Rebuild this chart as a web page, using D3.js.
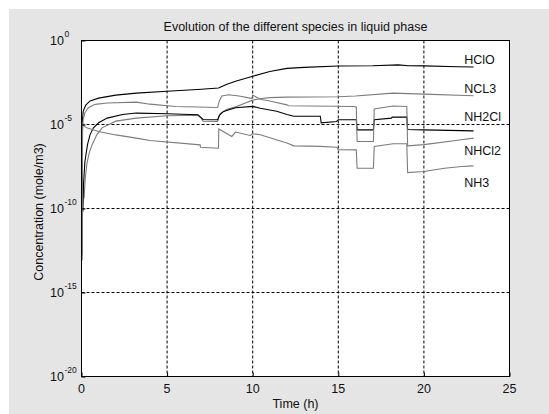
<!DOCTYPE html>
<html>
<head>
<meta charset="utf-8">
<script src="https://cdn.jsdelivr.net/npm/d3@7"></script>
<style>
	body { margin: 0; background: #fff; }
	text { font-family: "Liberation Sans", Arial, sans-serif; fill: #111; }
</style>
</head>
<body>
<div id="chart"></div>
<script>
// values; concentrations kept as log10(mole/m3)
const xTicks = [0, 5, 10, 15, 20, 25];
const yTickExp = [-20, -15, -10, -5, 0];

const hcloT   = [0.03, 0.04, 0.06, 0.1, 0.25, 0.5, 1, 2, 3.2, 5, 7, 8, 8.5, 9, 10, 11, 12, 13, 15, 17, 18.5, 19.1, 20, 22, 22.9];
const hcloLog = [-12.8, -5.0, -4.7, -4.2, -3.85, -3.6, -3.43, -3.25, -3.13, -3.02, -2.9, -2.83, -2.6, -2.43, -2.13, -1.85, -1.66, -1.6, -1.52, -1.5, -1.45, -1.5, -1.51, -1.56, -1.58];

const ncl3T   = [0.15, 0.22, 0.32, 0.45, 0.62, 0.9, 1.2, 2, 3.2, 5, 6.8, 7.0, 7.1, 7.95, 8.1, 8.5, 9, 9.5, 10, 10.5, 11, 12, 15, 16, 18.2, 20, 22.9];
const ncl3Log = [-9.4, -8.2, -7.3, -6.7, -6.2, -5.6, -5.2, -4.8, -4.62, -4.48, -4.45, -4.62, -4.8, -4.82, -4.35, -4.1, -3.95, -3.75, -3.55, -3.45, -3.4, -3.37, -3.35, -3.3, -3.13, -3.19, -3.29];

const nh2clT   = [0.08, 0.12, 0.2, 0.35, 0.5, 0.7, 1.0, 1.5, 2.4, 3.2, 5, 6.8, 7.0, 7.1, 7.95, 8.05, 8.3, 9, 10, 10.44, 11.4, 12.0, 12.4, 13.95, 14.0, 14.9, 15.0, 16.05, 16.1, 17.05, 17.1, 18.1, 18.15, 19.0, 19.05, 20, 22.9];
const nh2clLog = [-10.2, -8.5, -7.2, -6.2, -5.6, -5.2, -4.9, -4.62, -4.4, -4.32, -4.36, -4.42, -4.6, -4.7, -4.72, -4.45, -4.22, -4.0, -3.92, -4.03, -4.21, -4.4, -4.51, -4.51, -4.9, -4.82, -4.72, -4.72, -5.32, -5.32, -4.72, -4.62, -4.56, -4.56, -5.3, -5.32, -5.38];

const nhcl2T   = [0.04, 0.05, 0.06, 0.1, 0.2, 0.4, 0.8, 1.5, 3.2, 4, 5.5, 7.95, 8.05, 8.2, 8.6, 9.2, 9.85, 9.95, 10.0, 10.44, 11, 12, 12.1, 15.9, 16.05, 16.1, 17.05, 17.1, 18.2, 19.0, 19.05, 20, 22.2, 22.9];
const nhcl2Log = [-13.1, -8.0, -5.5, -4.7, -4.3, -4.0, -3.8, -3.72, -3.67, -3.79, -3.93, -3.99, -3.6, -3.3, -3.23, -3.3, -3.43, -3.45, -3.25, -3.5, -3.6, -3.83, -3.88, -3.93, -3.95, -6.01, -6.01, -4.08, -3.9, -3.93, -6.27, -6.2, -5.91, -5.81];

const nh3T   = [0.03, 0.3, 1, 2, 3.2, 4, 6.93, 6.95, 8.0, 8.02, 8.78, 9.0, 9.85, 10.0, 10.44, 12, 12.4, 13.95, 14.9, 15.0, 16.05, 16.1, 17.05, 17.1, 18.2, 19.0, 19.05, 20, 21.2, 22.2, 22.9];
const nh3Log = [-5.0, -5.2, -5.42, -5.62, -5.81, -5.95, -6.21, -6.35, -6.41, -5.27, -5.71, -5.45, -5.65, -5.55, -5.61, -6.1, -6.27, -6.3, -6.35, -6.5, -6.51, -7.6, -7.6, -6.31, -6.15, -6.15, -7.86, -7.8, -7.6, -7.5, -7.46];

const speciesNames = ["HClO", "NCL3", "NH2Cl", "NHCl2", "NH3"];
const labelT = 22.35;
const labelLog = [-1.12, -2.83, -4.54, -6.54, -8.46];

const series = [
	{ name: "HClO",  t: hcloT,  v: hcloLog,  color: "#000" },
	{ name: "NCL3",  t: ncl3T,  v: ncl3Log,  color: "#7c7c7c" },
	{ name: "NH2Cl", t: nh2clT, v: nh2clLog, color: "#000" },
	{ name: "NHCl2", t: nhcl2T, v: nhcl2Log, color: "#7c7c7c" },
	{ name: "NH3",   t: nh3T,   v: nh3Log,   color: "#7c7c7c" }
];

let width = 549;
let height = 414;
let margin = { top: 40.5, right: 39.5, bottom: 37.5, left: 81.5 };
let fontSize = "12.5px";

let svg = d3.select("#chart")
	.append("svg")
	.attr("width", width)
	.attr("height", height);

// figure background
svg.append("rect")
	.attr("x", 9).attr("y", 9)
	.attr("width", width - 9).attr("height", height - 9)
	.style("fill", "#e5e5e5");

let xScale = d3.scaleLinear()
	.domain([0, 25])
	.range([margin.left, width - margin.right]);

let yScale = d3.scaleLog()
	.domain([1e-20, 1])
	.range([height - margin.bottom, margin.top]);

// plot area
svg.append("rect")
	.attr("x", xScale(0))
	.attr("y", yScale(1))
	.attr("width", xScale(25) - xScale(0))
	.attr("height", yScale(1e-20) - yScale(1))
	.style("fill", "#fff");

// dashed grid
svg.append("g")
	.selectAll("line")
	.data(xTicks.slice(1, -1))
	.enter()
	.append("line")
	.attr("x1", d => xScale(d)).attr("x2", d => xScale(d))
	.attr("y1", yScale(1)).attr("y2", yScale(1e-20))
	.style("stroke", "#000")
	.style("stroke-dasharray", "3,2");

svg.append("g")
	.selectAll("line")
	.data(yTickExp.slice(1, -1))
	.enter()
	.append("line")
	.attr("x1", xScale(0)).attr("x2", xScale(25))
	.attr("y1", d => yScale(Math.pow(10, d))).attr("y2", d => yScale(Math.pow(10, d)))
	.style("stroke", "#000")
	.style("stroke-dasharray", "3,2");

// species curves
let line = d3.line()
	.x(d => xScale(d[0]))
	.y(d => yScale(Math.pow(10, d[1])));

svg.append("g")
	.selectAll("path")
	.data(series)
	.enter()
	.append("path")
	.attr("d", s => line(d3.zip(s.t, s.v)))
	.style("fill", "none")
	.style("stroke", s => s.color)
	.style("stroke-width", 1.1);

// frame with inward ticks
svg.append("g")
	.attr("transform", "translate(0," + yScale(1e-20) + ")")
	.call(d3.axisBottom(xScale).tickValues(xTicks).tickSize(-4).tickFormat(""))
	.call(g => g.select(".domain").remove());

svg.append("g")
	.attr("transform", "translate(" + xScale(0) + ",0)")
	.call(d3.axisLeft(yScale).tickValues(yTickExp.map(e => Math.pow(10, e))).tickSize(-4).tickFormat(""))
	.call(g => g.select(".domain").remove());

svg.append("rect")
	.attr("x", xScale(0))
	.attr("y", yScale(1))
	.attr("width", xScale(25) - xScale(0))
	.attr("height", yScale(1e-20) - yScale(1))
	.style("fill", "none")
	.style("stroke", "#000");

// tick labels
svg.append("g")
	.selectAll("text")
	.data(xTicks)
	.enter()
	.append("text")
	.attr("x", d => xScale(d))
	.attr("y", yScale(1e-20) + 16)
	.style("text-anchor", "middle")
	.style("font-size", fontSize)
	.text(d => d);

let yLabels = svg.append("g")
	.selectAll("g")
	.data(yTickExp)
	.enter()
	.append("g")
	.attr("transform", d => "translate(" + (xScale(0) - 17.5) + "," + yScale(Math.pow(10, d)) + ")");

yLabels.append("text")
	.attr("y", 4.5)
	.style("text-anchor", "end")
	.style("font-size", fontSize)
	.text("10");

yLabels.append("text")
	.attr("x", 0.5)
	.attr("y", -4)
	.style("font-size", "8.5px")
	.text(d => d);

// species names
svg.append("g")
	.selectAll("text")
	.data(speciesNames)
	.enter()
	.append("text")
	.attr("x", xScale(labelT))
	.attr("y", (d, i) => yScale(Math.pow(10, labelLog[i])) + 4.5)
	.style("font-size", fontSize)
	.text(d => d);

// title and axis labels
svg.append("text")
	.attr("x", (xScale(0) + xScale(25)) / 2)
	.attr("y", 31)
	.style("text-anchor", "middle")
	.style("font-size", fontSize)
	.text("Evolution of the different species in liquid phase");

svg.append("text")
	.attr("x", (xScale(0) + xScale(25)) / 2)
	.attr("y", 408)
	.style("text-anchor", "middle")
	.style("font-size", fontSize)
	.text("Time (h)");

svg.append("text")
	.attr("transform", "rotate(-90)")
	.attr("x", -212)
	.attr("y", 42.5)
	.style("text-anchor", "middle")
	.style("font-size", fontSize)
	.text("Concentration (mole/m3)");
</script>
</body>
</html>
